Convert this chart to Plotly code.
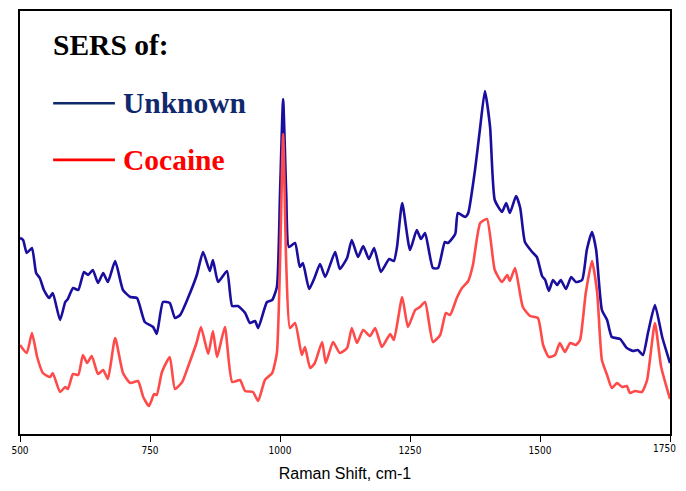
import plotly.graph_objects as go

# Unknown (blue) spectrum: Raman shift (cm-1) and relative intensity
unknown_shift = [500, 506, 513, 523, 531, 538, 546, 556, 563, 577, 587, 592, 602, 612, 623, 631,
                 640, 650, 660, 669, 683, 698, 712, 725, 740, 756, 763, 775, 788, 798, 808, 823,
                 840, 852, 865, 871, 881, 898, 908, 919, 933, 942, 952, 958, 975, 985, 994, 1000,
                 1006, 1012, 1017, 1029, 1038, 1044, 1056, 1067, 1077, 1087, 1106, 1115, 1129, 1138,
                 1150, 1160, 1171, 1181, 1194, 1210, 1219, 1225, 1235, 1250, 1263, 1271, 1279, 1294,
                 1304, 1317, 1323, 1337, 1342, 1356, 1362, 1375, 1385, 1394, 1404, 1413, 1427, 1435,
                 1442, 1454, 1462, 1471, 1485, 1494, 1504, 1510, 1517, 1525, 1533, 1540, 1550, 1560,
                 1569, 1581, 1590, 1600, 1608, 1619, 1629, 1638, 1654, 1667, 1679, 1688, 1698, 1708,
                 1721, 1735, 1750]
unknown_int = [196, 194, 181, 186, 161, 156, 144, 136, 141, 114, 132, 135, 146, 144, 162, 159,
               164, 151, 161, 152, 173, 144, 137, 136, 112, 107, 100, 132, 131, 116, 119, 136,
               159, 182, 163, 174, 152, 163, 128, 128, 121, 111, 113, 106, 132, 134, 147, 240,
               335, 240, 187, 191, 167, 171, 145, 157, 170, 157, 182, 165, 176, 194,
               177, 188, 175, 186, 162, 175, 173, 187, 231, 184, 204, 195, 201, 166,
               166, 192, 191, 200, 221, 217, 221, 264, 307, 343, 307, 234, 222, 231,
               221, 238, 226, 192, 182, 177, 158, 154, 143, 154, 149, 154, 145, 157,
               152, 154, 184, 202, 184, 124, 114, 97, 95, 86, 83, 84, 79, 102,
               129, 97, 71]

# Cocaine (red) spectrum
cocaine_shift = [500, 513, 523, 533, 544, 558, 563, 577, 587, 592, 602, 612, 621, 629, 638, 650,
                 660, 669, 683, 698, 712, 727, 737, 748, 758, 763, 773, 788, 798, 812, 823, 840,
                 848, 862, 871, 879, 894, 908, 923, 933, 948, 958, 971, 985, 994, 1000, 1006, 1012,
                 1019, 1029, 1042, 1048, 1058, 1067, 1081, 1088, 1102, 1115, 1129, 1138, 1148, 1160,
                 1173, 1183, 1196, 1212, 1219, 1235, 1246, 1260, 1269, 1279, 1294, 1308, 1319, 1327,
                 1340, 1350, 1362, 1371, 1385, 1398, 1413, 1427, 1437, 1442, 1452, 1467, 1481, 1496,
                 1506, 1517, 1529, 1538, 1548, 1558, 1569, 1577, 1588, 1600, 1610, 1619, 1629, 1638,
                 1648, 1658, 1667, 1673, 1683, 1696, 1706, 1721, 1733, 1750]
cocaine_int = [89, 81, 101, 77, 61, 57, 61, 42, 47, 45, 60, 59, 79, 71, 78, 60,
               64, 55, 96, 61, 51, 53, 37, 28, 40, 39, 62, 77, 45, 52, 67, 92,
               107, 80, 103, 77, 107, 52, 54, 43, 42, 33, 54, 61, 81, 170, 300, 170,
               106, 111, 79, 87, 66, 71, 92, 71, 92, 81, 86, 106, 91, 104,
               98, 106, 87, 100, 94, 137, 107, 124, 127, 132, 92, 99, 121, 119,
               136, 146, 153, 169, 211, 215, 164, 152, 159, 153, 166, 127, 118, 116,
               89, 77, 79, 91, 82, 91, 89, 94, 141, 173, 141, 74, 59, 46,
               51, 47, 48, 41, 43, 42, 54, 111, 67, 35]

tick_vals = [500, 750, 1000, 1250, 1500, 1750]
tick_text = ["500", "750", "1000", "1250", "1500", "1750"]

BLUE = "#1A0E9E"
RED = "#FF4A4A"
NAVY = "#10296C"
LEGEND_FONT = "Liberation Serif, Times New Roman"
TICK_FONT = dict(family="DejaVu Sans Condensed, Liberation Sans", size=10, color="black")

# last tick label sits at the very edge of the page; draw it as an annotation
# nudged inward so it is not clipped
axis_ticktext = tick_text[:-1] + [""]

fig = go.Figure()
fig.add_trace(go.Scatter(x=unknown_shift, y=unknown_int, mode="lines",
                         line=dict(color=BLUE, width=2.6, shape="spline", smoothing=0.5),
                         name="Unknown", showlegend=False))
fig.add_trace(go.Scatter(x=cocaine_shift, y=cocaine_int, mode="lines",
                         line=dict(color=RED, width=2.6, shape="spline", smoothing=0.5),
                         name="Cocaine", showlegend=False))

# The page body has an 8px margin, so the figure is sized to fit inside it.
fig.update_layout(
    width=670, height=475,
    margin=dict(l=12, r=8, t=3, b=49, autoexpand=False),
    paper_bgcolor="white", plot_bgcolor="white",
    xaxis=dict(range=[500, 1750], tickvals=tick_vals, ticktext=axis_ticktext,
               ticks="outside", ticklen=6, tickwidth=1, tickcolor="black",
               automargin=False,
               showline=True, linecolor="black", linewidth=1.5, mirror=True,
               showgrid=False, zeroline=False,
               tickfont=TICK_FONT,
               title=dict(text="Raman Shift, cm-1", standoff=13,
                          font=dict(family="Liberation Sans, Arial", size=16, color="black"))),
    yaxis=dict(range=[0, 423], showticklabels=False, ticks="", automargin=False,
               showline=True, linecolor="black", linewidth=1.5, mirror=True,
               showgrid=False, zeroline=False),
    shapes=[
        dict(type="line", xref="paper", yref="paper", x0=0.051, x1=0.146, y0=0.782, y1=0.782,
             line=dict(color=NAVY, width=2.6)),
        dict(type="line", xref="paper", yref="paper", x0=0.051, x1=0.146, y0=0.648, y1=0.648,
             line=dict(color="#FF0000", width=2.6)),
    ],
    annotations=[
        dict(text="<b>SERS of:</b>", xref="paper", yref="paper", x=0.048, y=0.92,
             xanchor="left", yanchor="middle", showarrow=False,
             font=dict(family=LEGEND_FONT, size=29.5, color="black")),
        dict(text="<b>Unknown</b>", xref="paper", yref="paper", x=0.155, y=0.782,
             xanchor="left", yanchor="middle", showarrow=False,
             font=dict(family=LEGEND_FONT, size=29.5, color=NAVY)),
        dict(text="<b>Cocaine</b>", xref="paper", yref="paper", x=0.155, y=0.648,
             xanchor="left", yanchor="middle", showarrow=False,
             font=dict(family=LEGEND_FONT, size=29.5, color="#FF0000")),
        dict(text=tick_text[-1], xref="paper", yref="paper", x=1.012, y=0,
             xanchor="right", yanchor="top", yshift=-7, showarrow=False,
             font=TICK_FONT),
    ],
)

fig.write_html("out.html", config={"displayModeBar": False})
